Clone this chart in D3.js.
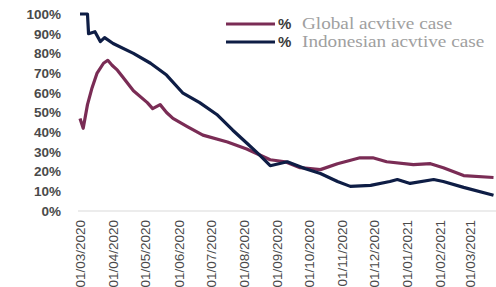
<!DOCTYPE html>
<html>
<head>
<meta charset="utf-8">
<script src="https://cdn.jsdelivr.net/npm/d3@7"></script>
<style>
  body { margin: 0; background: #fff; }
  svg { display: block; }
</style>
</head>
<body>
<svg id="chart"></svg>
<script>
// % of active cases
const seriesNames = ["Global acvtive case", "Indonesian acvtive case"];

const globalDates = ["2020-03-01", "2020-03-04", "2020-03-08", "2020-03-12", "2020-03-17", "2020-03-23",
  "2020-03-27", "2020-03-31", "2020-04-05", "2020-04-10", "2020-04-20", "2020-05-03", "2020-05-08",
  "2020-05-15", "2020-05-21", "2020-05-27", "2020-06-09", "2020-06-24", "2020-07-17", "2020-08-04",
  "2020-08-26", "2020-09-09", "2020-09-23", "2020-10-12", "2020-10-28", "2020-11-18", "2020-11-30",
  "2020-12-13", "2021-01-07", "2021-01-23", "2021-02-04", "2021-02-23", "2021-03-23"];
const globalValues = [47, 42, 54, 62, 70, 75,
  76.5, 74, 71.5, 68, 61, 55, 52,
  54, 50, 47, 43, 38.5, 35, 31.5,
  26, 25, 22, 21, 24, 27, 27,
  25, 23.5, 24, 22, 18, 17];

const indoDates = ["2020-03-01", "2020-03-08", "2020-03-09", "2020-03-15", "2020-03-20", "2020-03-24",
  "2020-04-01", "2020-04-20", "2020-05-06", "2020-05-21", "2020-06-05", "2020-06-21", "2020-07-07",
  "2020-07-22", "2020-08-04", "2020-08-15", "2020-08-26", "2020-09-11", "2020-09-28", "2020-10-12",
  "2020-10-28", "2020-11-09", "2020-11-28", "2020-12-16", "2020-12-23", "2021-01-04", "2021-01-26",
  "2021-02-04", "2021-02-23", "2021-03-23"];
const indoValues = [100, 100, 90, 91, 86, 88,
  85, 80, 75, 69, 60, 55, 49,
  41, 34.5, 29, 23, 25, 21.5, 19,
  15, 12.5, 13, 15, 16, 14, 16,
  15, 12, 8];

const yTicks = [0, 10, 20, 30, 40, 50, 60, 70, 80, 90, 100];
const colors = ["#7a2c55", "#0e1d45"];

const width = 496, height = 287;
const svg = d3.select("#chart").attr("width", width).attr("height", height);

const parse = d3.timeParse("%Y-%m-%d");
const x = d3.scaleTime()
  .domain([parse("2020-03-01"), parse("2021-03-01")])
  .range([80, 470]);
const y = d3.scaleLinear().domain([0, 100]).range([211, 14]);

// baseline
svg.append("line")
  .attr("x1", 78).attr("x2", width)
  .attr("y1", y(0)).attr("y2", y(0))
  .style("stroke", "#d9d9d9").style("stroke-width", 1);

// y axis labels
const yAxis = svg.append("g")
  .attr("transform", "translate(61,0)")
  .call(d3.axisLeft(y).tickValues(yTicks).tickSize(0).tickPadding(0).tickFormat(d => d + "%"));
yAxis.select(".domain").remove();
yAxis.selectAll("text")
  .style("font-family", "Liberation Sans, Arial, sans-serif")
  .style("font-size", "13.5px")
  .style("font-weight", "bold")
  .style("fill", "#4a4a4a");

// x axis labels, rotated
const xAxis = svg.append("g")
  .attr("transform", "translate(0,220)")
  .call(d3.axisBottom(x).ticks(d3.timeMonth.every(1)).tickSize(0).tickFormat(d3.timeFormat("%d/%m/%Y")));
xAxis.select(".domain").remove();
xAxis.selectAll("text")
  .attr("transform", "rotate(-90)")
  .attr("x", 0).attr("y", 0).attr("dy", "0.35em")
  .style("text-anchor", "end")
  .style("font-family", "Liberation Sans, Arial, sans-serif")
  .style("font-size", "13.5px")
  .style("fill", "#4a4a4a");

const line = d3.line()
  .x(d => x(d.date))
  .y(d => y(d.value));

const series = [
  globalDates.map((d, i) => ({ date: parse(d), value: globalValues[i] })),
  indoDates.map((d, i) => ({ date: parse(d), value: indoValues[i] }))
];

series.forEach((s, i) => {
  svg.append("path")
    .datum(s)
    .attr("d", line)
    .style("fill", "none")
    .style("stroke", colors[i])
    .style("stroke-width", 3.2)
    .style("stroke-linejoin", "round");
});

// legend
const legendY = [24, 42];
seriesNames.forEach((name, i) => {
  const g = svg.append("g").attr("transform", "translate(0," + legendY[i] + ")");
  g.append("line")
    .attr("x1", 226).attr("x2", 275)
    .style("stroke", colors[i]).style("stroke-width", 3);
  g.append("text")
    .text("%")
    .attr("x", 278).attr("y", 5)
    .style("font-family", "Liberation Sans, Arial, sans-serif")
    .style("font-size", "15px")
    .style("font-weight", "bold")
    .style("fill", "#3a3a3a");
  // the reference text is stretched sideways
  g.append("text")
    .text(name)
    .attr("transform", "translate(302,5) scale(1.2,1)")
    .style("font-family", "Liberation Serif, Times New Roman, serif")
    .style("font-size", "16px")
    .style("fill", "#a0a0a0");
});
</script>
</body>
</html>
